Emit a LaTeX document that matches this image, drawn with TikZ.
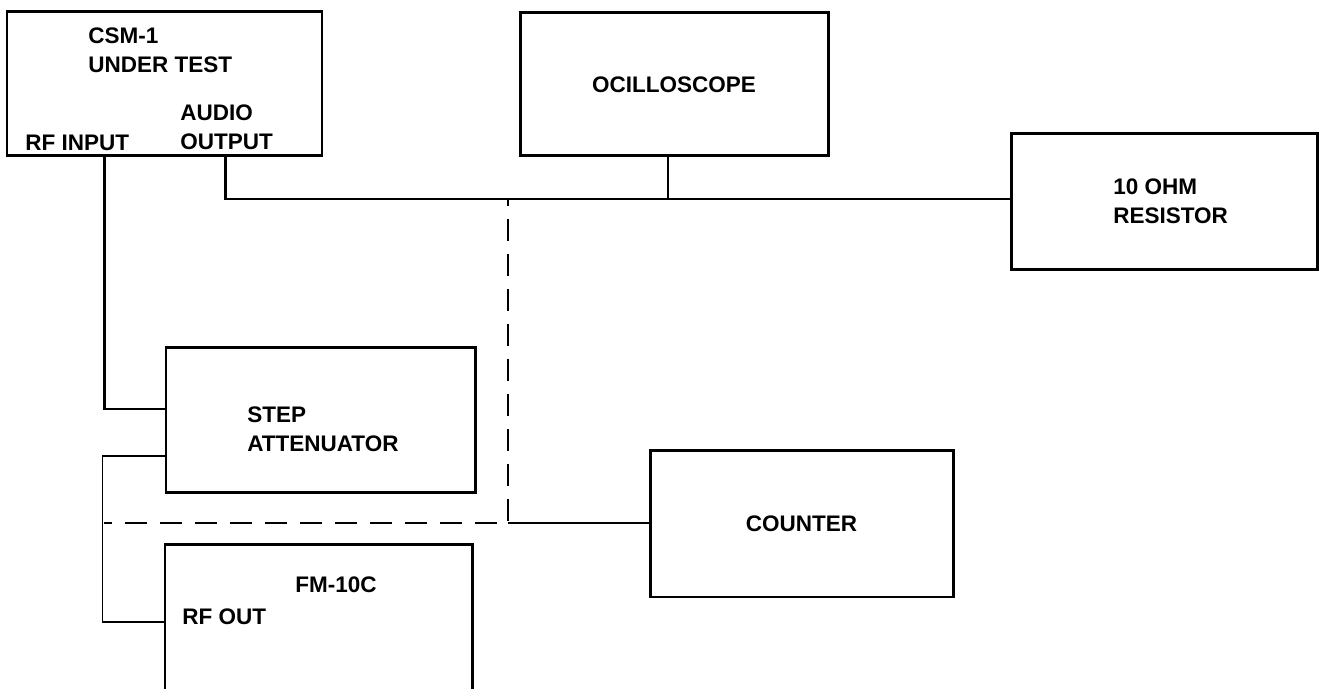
\documentclass[tikz,border=0pt]{standalone}
\usepackage{fontspec}
\setmainfont{Liberation Sans}
\usetikzlibrary{positioning, calc}

\begin{document}
\begin{tikzpicture}[
  font=\fontsize{12.8}{16.5}\selectfont\bfseries,
  unit/.style={draw, line width=1.7pt, inner sep=0pt, align=center},
  wire/.style={line width=1.4pt},
  lead/.style={line width=1.1pt},
  probe/.style={line width=1.4pt, dash pattern=on 0.45cm off 0.25cm, dash phase=0.3cm},
  tag/.style={inner sep=0pt, align=left, anchor=west},
]
\useasboundingbox (0,0) rectangle (26.42,13.78);

% Boxes
\node[unit, minimum width=6.30cm, minimum height=2.88cm] (csm) at (3.29, 12.10) {};
\node[unit, minimum width=6.16cm, minimum height=2.86cm] (osc) at (13.48, 12.09) {OCILLOSCOPE};
\node[unit, minimum width=6.12cm, minimum height=2.72cm] (res) at (23.28, 9.74) {};
\node[unit, minimum width=6.18cm, minimum height=2.90cm] (att) at (6.41, 5.37) {};
\node[unit, minimum width=6.06cm, minimum height=2.92cm] (cnt) at (16.03, 3.30) {COUNTER};
\node[unit, minimum width=6.14cm, minimum height=2.94cm] (fm)  at (6.37, 1.41) {};

% Box texts
\node[tag] (csmname) at (1.76, 12.78) {CSM-1\\UNDER TEST};
\node[tag] (audio)   at (3.60, 11.23) {AUDIO\\OUTPUT};
\node[tag] (rfin)    at (0.50, 10.92) {RF INPUT};
\node[tag] (resname) at (22.26, 9.75) {10 OHM\\RESISTOR};
\node[tag] (attname) at (4.94, 5.20)  {STEP\\ATTENUATOR};
\node[tag] (fmname)  at (5.90, 2.08)  {FM-10C};
\node[tag] (rfout)   at (3.64, 1.44)  {RF OUT};

% Junctions
\coordinate (bus)  at (13.36, 9.80);
\coordinate (tap)  at (10.16, 9.80);
\coordinate (bend) at (10.16, 3.32);
\coordinate (join) at (2.08, 3.32);

% RF path
\draw[wire] ($(csm.south west)+(1.98,0)$) |- ($(att.west)+(0,0.23)$);
\draw[lead] ($(att.west)+(0,-0.71)$) -- ++(-1.24,0) |- ($(fm.west)+(0,-0.07)$);

% Audio bus
\draw[wire] ($(csm.south west)+(4.40,0)$) |- ($(res.west)+(0,0.06)$);
\draw[wire] (osc.south -| bus) -- (bus);

% Counter tap
\draw[probe] (tap) -- (bend) -- (join);
\draw[wire] (bend) -- (bend -| cnt.west);

\end{tikzpicture}
\end{document}
